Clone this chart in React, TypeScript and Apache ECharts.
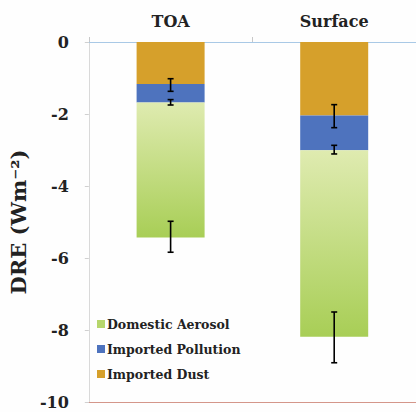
import React, { useEffect, useRef } from "react";
import * as echarts from "echarts";

const categories = ["TOA", "Surface"];
const seriesNames = ["Imported Dust", "Imported Pollution", "Domestic Aerosol"];
const dustValues = [-1.17, -2.04];
const pollutionValues = [-0.51, -0.97];
const domesticValues = [-3.75, -5.18];
// error bars: [categoryIndex, low, high]
const errorBars = [
  [0, -1.37, -1.02],
  [0, -1.75, -1.6],
  [0, -5.84, -4.98],
  [1, -2.38, -1.74],
  [1, -3.11, -2.87],
  [1, -8.91, -7.5],
];
const yMin = -10;
const yMax = 0;
const yInterval = 2;

const FONT = "DejaVu Serif";
const TEXT = "#222222";

export default function App() {
  const ref = useRef<HTMLDivElement>(null);
  useEffect(() => {
    if (!ref.current) return;
    const chart = echarts.init(ref.current, null, { renderer: "svg" });
    const domesticGrad = new echarts.graphic.LinearGradient(0, 0, 0, 1, [
      { offset: 0, color: "#DFEBB0" },
      { offset: 1, color: "#A8CE56" },
    ]);
    chart.setOption({
      animation: false,
      backgroundColor: "#FEFEFE",
      grid: { left: 81, top: 42, width: 337, height: 360 },
      legend: {
        orient: "vertical",
        left: 92,
        top: 312,
        itemWidth: 8,
        itemHeight: 8,
        itemGap: 11,
        icon: "rect",
        textStyle: {
          fontFamily: FONT,
          fontWeight: "bold",
          fontSize: 12.5,
          color: TEXT,
          lineHeight: 14,
          padding: [0, 0, 0, -3],
        },
        data: [
          { name: "Domestic Aerosol", itemStyle: { color: "#B6D66C" } },
          { name: "Imported Pollution", itemStyle: { color: "#4E73BE" } },
          { name: "Imported Dust", itemStyle: { color: "#D6A02B" } },
        ],
      },
      xAxis: [
        {
          type: "category",
          data: categories,
          position: "top",
          axisLine: { show: true, lineStyle: { color: "#A9C9E6", width: 1 } },
          axisTick: { show: true, length: 5, lineStyle: { color: "#C8C8C8" } },
          axisLabel: {
            fontFamily: FONT,
            fontWeight: "bold",
            fontSize: 16,
            color: TEXT,
            margin: 13,
          },
        },
        {
          type: "category",
          data: categories,
          position: "bottom",
          axisLine: { show: true, lineStyle: { color: "#D4968A", width: 1 } },
          axisTick: { show: false },
          axisLabel: { show: false },
        },
      ],
      yAxis: {
        type: "value",
        min: yMin,
        max: yMax,
        interval: yInterval,
        name: "DRE (Wm⁻²)",
        nameLocation: "middle",
        nameRotate: 90,
        nameGap: 48,
        nameTextStyle: {
          fontFamily: FONT,
          fontWeight: "bold",
          fontSize: 21,
          color: TEXT,
        },
        axisLine: { show: true, lineStyle: { color: "#D9D9D9" } },
        axisTick: { show: true, length: 4, lineStyle: { color: "#D0D0D0" } },
        splitLine: { show: false },
        axisLabel: {
          fontFamily: FONT,
          fontWeight: "bold",
          fontSize: 16,
          color: TEXT,
          margin: 20,
        },
      },
      series: [
        {
          name: seriesNames[0],
          type: "bar",
          stack: "dre",
          barWidth: 68,
          data: dustValues,
          itemStyle: { color: "#D6A02B" },
        },
        {
          name: seriesNames[1],
          type: "bar",
          stack: "dre",
          barWidth: 68,
          data: pollutionValues,
          itemStyle: { color: "#4E73BE" },
        },
        {
          name: seriesNames[2],
          type: "bar",
          stack: "dre",
          barWidth: 68,
          data: domesticValues,
          itemStyle: { color: domesticGrad },
        },
        {
          type: "custom",
          name: "error",
          xAxisIndex: 0,
          yAxisIndex: 0,
          data: errorBars,
          encode: { x: 0, y: [1, 2] },
          z: 10,
          renderItem: (params: any, api: any) => {
            const x = api.value(0);
            const lo = api.coord([x, api.value(1)]);
            const hi = api.coord([x, api.value(2)]);
            const cap = 3;
            const style = { stroke: "#000", lineWidth: 1.6 };
            return {
              type: "group",
              children: [
                { type: "line", shape: { x1: lo[0], y1: lo[1], x2: hi[0], y2: hi[1] }, style },
                { type: "line", shape: { x1: lo[0] - cap, y1: lo[1], x2: lo[0] + cap, y2: lo[1] }, style },
                { type: "line", shape: { x1: hi[0] - cap, y1: hi[1], x2: hi[0] + cap, y2: hi[1] }, style },
              ],
            };
          },
        },
      ],
    });
    return () => chart.dispose();
  }, []);
  return (
    <div
      ref={ref}
      style={{ position: "fixed", left: 0, top: 0, width: 416, height: 412 }}
    />
  );
}
